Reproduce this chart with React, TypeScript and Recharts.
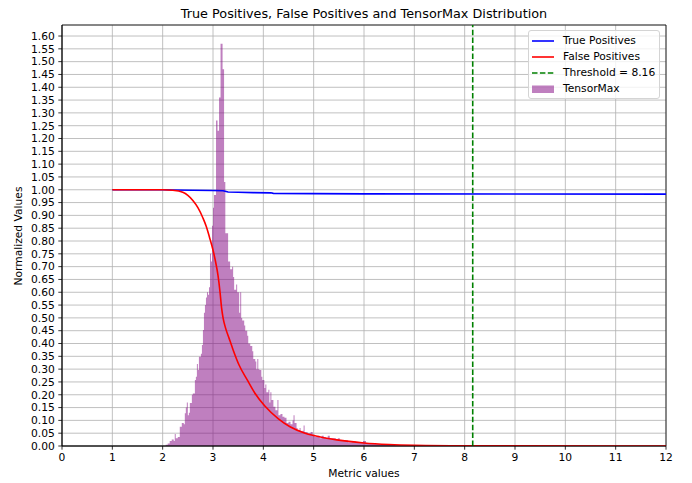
import React from 'react';
import {
  ComposedChart,
  Line,
  Area,
  XAxis,
  YAxis,
  CartesianGrid,
  ReferenceLine,
  ReferenceArea,
} from 'recharts';

const FONT = '"DejaVu Sans", Verdana, sans-serif';

// Histogram (TensorMax) step function: left bin edge and bar height
const histEdges = [
  2.06, 2.1, 2.14, 2.18, 2.22, 2.24, 2.26, 2.3, 2.34, 2.38, 2.42, 2.44, 2.46, 2.48, 2.5, 2.52,
  2.54, 2.58, 2.6, 2.64, 2.66, 2.68, 2.7, 2.72, 2.76, 2.78, 2.8, 2.82, 2.84, 2.86, 2.88, 2.9,
  2.92, 2.94, 2.96, 2.98, 3.0, 3.02, 3.06, 3.09, 3.12, 3.15, 3.19, 3.22, 3.245, 3.3, 3.34, 3.38,
  3.4, 3.42, 3.46, 3.48, 3.52, 3.54, 3.56, 3.58, 3.62, 3.64, 3.68, 3.7, 3.74, 3.78, 3.8, 3.84,
  3.86, 3.88, 3.9, 3.92, 3.96, 3.98, 4.02, 4.04, 4.06, 4.1, 4.12, 4.14, 4.16, 4.2, 4.24, 4.28,
  4.3, 4.34, 4.38, 4.42, 4.46, 4.5, 4.54, 4.58, 4.6, 4.62, 4.66, 4.68, 4.72, 4.74, 4.78, 4.8,
  4.82, 4.88, 4.94, 4.98, 5.02, 5.08, 5.12, 5.16, 5.2, 5.24, 5.28, 5.32, 5.38, 5.44, 5.48, 5.52,
  5.62, 5.68, 5.76, 5.84, 5.92, 5.98, 6.04, 6.12, 6.22, 6.32, 6.42, 6.52, 6.62, 6.72, 6.9,
];
const histHeights = [
  0.005, 0.01, 0.02, 0.025, 0.02, 0.047, 0.03, 0.035, 0.075, 0.09, 0.085, 0.128, 0.15, 0.17, 0.12, 0.13,
  0.168, 0.2, 0.205, 0.258, 0.27, 0.32, 0.297, 0.348, 0.36, 0.394, 0.453, 0.52, 0.55, 0.58, 0.6, 0.59,
  0.62, 0.75, 0.72, 0.86, 0.93, 0.98, 1.27, 1.23, 1.36, 1.57, 1.47, 1.03, 0.83, 0.72, 0.69, 0.7,
  0.66, 0.61, 0.63, 0.6, 0.52, 0.6, 0.5, 0.49, 0.47, 0.45, 0.43, 0.4, 0.39, 0.37, 0.34, 0.33,
  0.3, 0.34, 0.3, 0.297, 0.27, 0.258, 0.226, 0.24, 0.21, 0.22, 0.17, 0.21, 0.18, 0.153, 0.14, 0.18,
  0.12, 0.125, 0.114, 0.11, 0.09, 0.095, 0.085, 0.1, 0.12, 0.09, 0.07, 0.062, 0.07, 0.058, 0.06, 0.08,
  0.055, 0.05, 0.055, 0.045, 0.035, 0.04, 0.03, 0.04, 0.035, 0.03, 0.04, 0.03, 0.03, 0.025, 0.03, 0.02,
  0.022, 0.015, 0.018, 0.012, 0.015, 0.02, 0.012, 0.01, 0.008, 0.006, 0.007, 0.004, 0.002, 0.001, 0,
];

// True Positives curve
const tpX = [1.0, 2.0, 2.2, 2.6, 3.0, 3.2, 3.3, 3.5, 3.8, 4.15, 4.2, 5.0, 6.0, 12.0];
const tpY = [1.0, 1.0, 0.999, 0.998, 0.997, 0.996, 0.991, 0.99, 0.989, 0.988, 0.986, 0.985, 0.984, 0.983];

// False Positives curve
const fpX = [
  1.0, 2.0, 2.2, 2.4, 2.5, 2.6, 2.7, 2.8, 2.87, 2.93, 3.0, 3.05, 3.1, 3.14, 3.17, 3.2, 3.25,
  3.32, 3.4, 3.52, 3.68, 3.83, 4.03, 4.3, 4.53, 4.83, 5.0, 5.46, 6.0, 6.5, 7.0, 8.0, 12.0,
];
const fpY = [
  1.0, 1.0, 0.998, 0.99, 0.978, 0.958, 0.93, 0.89, 0.855, 0.815, 0.765, 0.72, 0.665, 0.6, 0.54, 0.5, 0.46,
  0.42, 0.375, 0.315, 0.258, 0.207, 0.156, 0.106, 0.075, 0.05, 0.041, 0.024, 0.012, 0.006, 0.003, 0.001, 0.0,
];

const THRESHOLD = 8.16;
const X_MAX = 12;
const Y_MAX = 1.643;

const xTicks = [0, 1, 2, 3, 4, 5, 6, 7, 8, 9, 10, 11, 12];
const yTicks = [
  0, 0.05, 0.1, 0.15, 0.2, 0.25, 0.3, 0.35, 0.4, 0.45, 0.5, 0.55, 0.6, 0.65, 0.7, 0.75, 0.8,
  0.85, 0.9, 0.95, 1.0, 1.05, 1.1, 1.15, 1.2, 1.25, 1.3, 1.35, 1.4, 1.45, 1.5, 1.55, 1.6,
];

const TITLE = 'True Positives, False Positives and TensorMax Distribution';
const X_LABEL = 'Metric values';
const Y_LABEL = 'Normalized Values';

const legendNames = ['True Positives', 'False Positives', `Threshold = ${THRESHOLD}`, 'TensorMax'];
const legendKinds = ['line', 'line', 'dash', 'patch'];
const legendColors = ['#0000ff', '#ff0000', '#008000', 'rgba(128,0,128,0.5)'];

const histData = histEdges.map((x, i) => ({ x, h: histHeights[i] }));
const tpData = tpX.map((x, i) => ({ x, y: tpY[i] }));
const fpData = fpX.map((x, i) => ({ x, y: fpY[i] }));

const FS = 10.7;
const tickStyle = { fill: '#000', fontSize: FS, fontFamily: FONT };

function LegendBox() {
  return (
    <div
      style={{
        position: 'absolute',
        left: 528,
        top: 30,
        width: 132,
        height: 69,
        boxSizing: 'border-box',
        border: '1px solid #d4d4d4',
        borderRadius: 3,
        background: 'rgba(255,255,255,0.8)',
        fontFamily: FONT,
        fontSize: FS,
        color: '#000',
      }}
    >
      {legendNames.map((name, i) => (
        <div
          key={name}
          style={{ position: 'absolute', left: 0, top: 2.5 + i * 16, height: 14, width: 130 }}
        >
          <svg width={24} height={14} style={{ position: 'absolute', left: 3, top: 0 }}>
            {legendKinds[i] === 'patch' ? (
              <rect x={0} y={3.5} width={22} height={7.5} fill={legendColors[i]} />
            ) : (
              <line
                x1={0}
                x2={22}
                y1={7}
                y2={7}
                stroke={legendColors[i]}
                strokeWidth={1.6}
                strokeDasharray={legendKinds[i] === 'dash' ? '5.5 2.4' : undefined}
              />
            )}
          </svg>
          <span
            style={{
              position: 'absolute',
              left: 34,
              top: 0,
              lineHeight: '14px',
              whiteSpace: 'nowrap',
            }}
          >
            {name}
          </span>
        </div>
      ))}
    </div>
  );
}

export default function App() {
  return (
    <div
      style={{
        position: 'absolute',
        left: 0,
        top: 0,
        width: 692,
        height: 483,
        background: '#fff',
        fontFamily: FONT,
      }}
    >
      <ComposedChart width={692} height={483} margin={{ top: 25, right: 26, left: 0, bottom: 0 }}>
        <CartesianGrid stroke="#b0b0b0" strokeWidth={0.8} />
        <XAxis
          dataKey="x"
          type="number"
          domain={[0, X_MAX]}
          ticks={xTicks}
          interval={0}
          allowDataOverflow
          height={37}
          tickSize={3.7}
          tickMargin={4}
          stroke="#000"
          strokeWidth={0.8}
          tick={tickStyle}
        />
        <YAxis
          type="number"
          domain={[0, Y_MAX]}
          ticks={yTicks}
          interval={0}
          allowDataOverflow
          width={62}
          tickSize={3.7}
          tickMargin={3.5}
          stroke="#000"
          strokeWidth={0.8}
          tick={tickStyle}
          tickFormatter={(v: number) => v.toFixed(2)}
        />
        <Area
          data={histData}
          dataKey="h"
          type="stepAfter"
          stroke="none"
          fill="#800080"
          fillOpacity={0.5}
          isAnimationActive={false}
        />
        <Line
          data={tpData}
          dataKey="y"
          type="linear"
          stroke="#0000ff"
          strokeWidth={1.6}
          dot={false}
          isAnimationActive={false}
        />
        <Line
          data={fpData}
          dataKey="y"
          type="monotone"
          stroke="#ff0000"
          strokeWidth={1.6}
          dot={false}
          isAnimationActive={false}
        />
        <ReferenceLine x={THRESHOLD} stroke="#008000" strokeWidth={1.6} strokeDasharray="5.5 2.4" />
        <ReferenceArea
          x1={0}
          x2={X_MAX}
          y1={0}
          y2={Y_MAX}
          fill="none"
          fillOpacity={0}
          stroke="#000"
          strokeWidth={0.8}
          strokeOpacity={1}
        />
      </ComposedChart>
      <div
        style={{
          position: 'absolute',
          left: 62,
          width: 604,
          top: 6,
          textAlign: 'center',
          fontSize: 12.8,
          lineHeight: '16px',
          color: '#000',
          whiteSpace: 'nowrap',
        }}
      >
        {TITLE}
      </div>
      <div
        style={{
          position: 'absolute',
          left: 364,
          top: 474,
          transform: 'translate(-50%, -50%)',
          fontSize: FS,
          lineHeight: '12px',
          color: '#000',
          whiteSpace: 'nowrap',
        }}
      >
        {X_LABEL}
      </div>
      <div
        style={{
          position: 'absolute',
          left: 19,
          top: 235.5,
          transform: 'translate(-50%, -50%) rotate(-90deg)',
          fontSize: FS,
          lineHeight: '12px',
          color: '#000',
          whiteSpace: 'nowrap',
        }}
      >
        {Y_LABEL}
      </div>
      <LegendBox />
    </div>
  );
}
